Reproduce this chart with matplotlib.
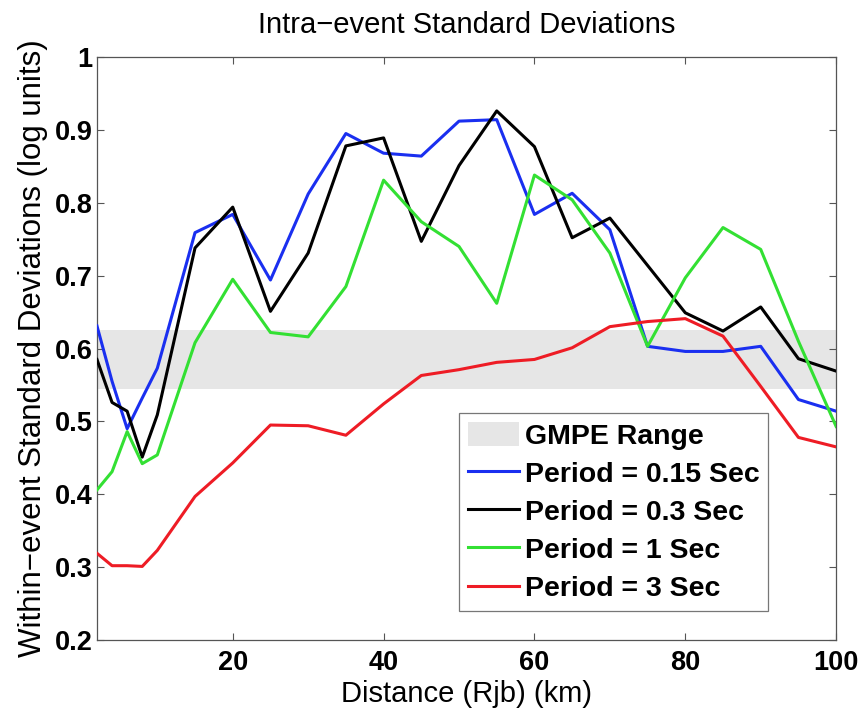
import numpy as np
import matplotlib
matplotlib.use("Agg")
import matplotlib.pyplot as plt
from matplotlib.patches import Patch
from matplotlib.lines import Line2D

plt.rcParams['font.family'] = ['Liberation Sans', 'DejaVu Sans']

# distance bins (km)
distance = [2, 4, 6, 8, 10, 15, 20, 25, 30, 35, 40, 45, 50, 55, 60, 65, 70, 75, 80, 85, 90, 95, 100]

# within-event standard deviations by period
sd_015 = [0.631, 0.555, 0.490, 0.532, 0.573, 0.759, 0.784, 0.694, 0.812, 0.895, 0.868, 0.864,
          0.912, 0.914, 0.784, 0.813, 0.763, 0.603, 0.596, 0.596, 0.603, 0.530, 0.514]
sd_03 = [0.585, 0.526, 0.514, 0.451, 0.509, 0.738, 0.794, 0.651, 0.731, 0.878, 0.889, 0.747,
         0.851, 0.926, 0.877, 0.752, 0.779, 0.714, 0.649, 0.624, 0.657, 0.586, 0.569]
sd_1 = [0.406, 0.431, 0.486, 0.442, 0.454, 0.608, 0.695, 0.622, 0.616, 0.685, 0.831, 0.774,
        0.740, 0.662, 0.838, 0.804, 0.731, 0.603, 0.697, 0.766, 0.736, 0.610, 0.493]
sd_3 = [0.319, 0.302, 0.302, 0.301, 0.323, 0.397, 0.443, 0.495, 0.494, 0.481, 0.524, 0.563,
        0.571, 0.581, 0.585, 0.601, 0.630, 0.637, 0.641, 0.617, 0.548, 0.478, 0.465]

gmpe_low, gmpe_high = 0.544, 0.626

fig = plt.figure(figsize=(8.62, 7.08), dpi=100)
ax = fig.add_axes([0.1125, 0.096, 0.8575, 0.8235])

ax.axhspan(gmpe_low, gmpe_high, color='#e6e6e6', lw=0, zorder=1)

lw = 2.2
ax.plot(distance, sd_015, color='#1a2ff0', lw=lw, zorder=3)
ax.plot(distance, sd_03, color='black', lw=lw, zorder=3)
ax.plot(distance, sd_1, color='#33e033', lw=lw, zorder=3)
ax.plot(distance, sd_3, color='#ee1c25', lw=lw, zorder=3)

ax.set_xlim(2, 100)
ax.set_ylim(0.2, 1.0)
ax.set_xticks([20, 40, 60, 80, 100])
ax.set_yticks([0.2, 0.3, 0.4, 0.5, 0.6, 0.7, 0.8, 0.9, 1.0])
ax.set_yticklabels(['0.2', '0.3', '0.4', '0.5', '0.6', '0.7', '0.8', '0.9', '1'])
ax.tick_params(direction='in', top=True, right=True, length=5, width=0.8,
               labelsize=19.5, colors='#555555', labelcolor='black')
ax.tick_params(axis='x', pad=7)
ax.tick_params(axis='y', pad=3)
for lab in ax.get_xticklabels() + ax.get_yticklabels():
    lab.set_fontweight('bold')
for sp in ax.spines.values():
    sp.set_color('#555555')
    sp.set_linewidth(0.9)

ax.set_title('Intra\u2212event Standard Deviations', fontsize=21, pad=17)
ax.set_xlabel('Distance (Rjb) (km)', fontsize=21, labelpad=3)
ax.set_ylabel('Within\u2212event Standard Deviations (log units)', fontsize=22.5, labelpad=5)

handles = [Patch(facecolor='#e6e6e6', edgecolor='none'),
           Line2D([], [], color='#1a2ff0', lw=lw),
           Line2D([], [], color='black', lw=lw),
           Line2D([], [], color='#33e033', lw=lw),
           Line2D([], [], color='#ee1c25', lw=lw)]
labels = ['GMPE Range', 'Period = 0.15 Sec', 'Period = 0.3 Sec',
          'Period = 1 Sec', 'Period = 3 Sec']
leg = ax.legend(handles, labels, loc='lower right', bbox_to_anchor=(0.908, 0.05),
                prop={'weight': 'bold', 'size': 20.5}, frameon=True, fancybox=False,
                edgecolor='#555555', handlelength=1.8, handleheight=0.9,
                handletextpad=0.2, labelspacing=0.37, borderpad=0.3,
                borderaxespad=0)
leg.get_frame().set_linewidth(0.9)

fig.savefig('out.png', dpi=100)
